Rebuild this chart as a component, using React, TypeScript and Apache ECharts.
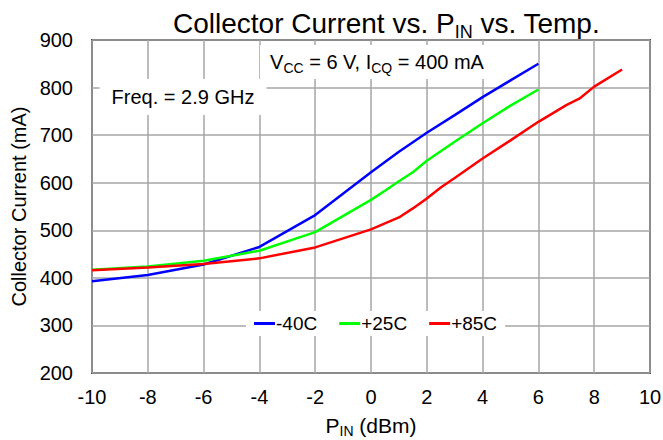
import React, { useEffect, useRef } from "react";
import * as echarts from "echarts";

const xTicks = { min: -10, max: 10, interval: 2 };
const yTicks = { min: 200, max: 900, interval: 100 };

const blueX = [-10, -8, -6, -4, -2, 0, 1, 2, 3, 4, 5, 6];
const blueY = [393, 406, 428, 465, 532, 622, 665, 705, 742, 780, 815, 850];

const greenX = [-10, -8, -6, -4, -2, 0, 0.5, 1, 1.5, 2, 3, 4, 5, 6];
const greenY = [417, 424, 436, 457, 496, 564, 583, 603, 622, 646, 686, 725, 762, 796];

const redX = [-10, -8, -6, -4, -2, 0, 1, 1.5, 2, 2.5, 3, 4, 5, 6, 7, 7.5, 8, 9];
const redY = [416, 422, 429, 441, 464, 502, 527, 546, 567, 590, 610, 651, 689, 728, 763, 778, 802, 838];

const seriesNames = ["-40C", "+25C", "+85C"];
const seriesColors = ["#0000ff", "#00ff00", "#ff0000"];

const FONT = "'Liberation Sans', Arial, Helvetica, sans-serif";

function zip(xs: number[], ys: number[]) {
  return xs.map((x, i) => [x, ys[i]]);
}

export default function App() {
  const ref = useRef<HTMLDivElement>(null);
  useEffect(() => {
    if (!ref.current) return;
    const chart = echarts.init(ref.current, undefined, { renderer: "svg" });
    const datasets = [zip(blueX, blueY), zip(greenX, greenY), zip(redX, redY)];
    chart.setOption({
      animation: false,
      backgroundColor: "#ffffff",
      textStyle: { fontFamily: FONT },
      title: {
        text: "Collector Current vs. P{sub|IN} vs. Temp.",
        left: 168,
        top: 0,
        textStyle: {
          fontFamily: FONT,
          fontSize: 28,
          fontWeight: "normal",
          color: "#000",
          lineHeight: 36,
          rich: {
            sub: { fontFamily: FONT, fontSize: 18, verticalAlign: "bottom", lineHeight: 36, color: "#000" },
          },
        },
      },
      grid: {
        left: 92,
        right: 13,
        top: 40,
        bottom: 67,
        outerBoundsMode: "none",
        containLabel: false,
        show: true,
        borderColor: "#404040",
        borderWidth: 2,
        backgroundColor: "transparent",
      },
      legend: {
        data: seriesNames,
        left: 246,
        top: 311,
        backgroundColor: "#ffffff",
        padding: [3, 8, 3, 8],
        itemGap: 22,
        itemWidth: 21,
        itemHeight: 3,
        icon: "rect",
        textStyle: { fontFamily: FONT, fontSize: 19, color: "#000", padding: [0, 0, 0, -4] },
      },
      xAxis: {
        type: "value",
        min: xTicks.min,
        max: xTicks.max,
        interval: xTicks.interval,
        name: "P{sub|IN} (dBm)",
        nameLocation: "middle",
        nameGap: 39,
        nameTextStyle: {
          fontFamily: FONT,
          fontSize: 21,
          color: "#000",
          lineHeight: 26,
          rich: { sub: { fontFamily: FONT, fontSize: 14, verticalAlign: "bottom", lineHeight: 26, color: "#000" } },
        },
        axisLine: { show: false },
        axisTick: { show: false },
        axisLabel: { fontFamily: FONT, fontSize: 20, color: "#000", margin: 14 },
        splitLine: { show: true, lineStyle: { color: "#a6a6a6", width: 1.5 } },
      },
      yAxis: {
        type: "value",
        min: yTicks.min,
        max: yTicks.max,
        interval: yTicks.interval,
        name: "Collector Current (mA)",
        nameLocation: "middle",
        nameGap: 58,
        nameTextStyle: { fontFamily: FONT, fontSize: 20, color: "#000" },
        axisLine: { show: false },
        axisTick: { show: false },
        axisLabel: { fontFamily: FONT, fontSize: 20, color: "#000", margin: 19 },
        splitLine: { show: true, lineStyle: { color: "#a6a6a6", width: 1.5 } },
      },
      graphic: [
        {
          type: "text",
          x: 183,
          y: 97,
          z: 100,
          style: {
            text: "Freq. = 2.9 GHz",
            fontFamily: FONT,
            fontSize: 20,
            fill: "#000",
            align: "center",
            verticalAlign: "middle",
            backgroundColor: "#ffffff",
            padding: [8, 12, 8, 12],
          },
        },
        {
          type: "text",
          x: 377,
          y: 62,
          z: 100,
          style: {
            text: "V{sub|CC} = 6 V, I{sub|CQ} = 400 mA",
            fontFamily: FONT,
            fontSize: 20,
            fill: "#000",
            align: "center",
            verticalAlign: "middle",
            backgroundColor: "#ffffff",
            padding: [4, 10, 4, 10],
            lineHeight: 26,
            rich: {
              sub: { fontFamily: FONT, fontSize: 14, verticalAlign: "bottom", lineHeight: 26, fill: "#000" },
            },
          },
        },
      ],
      series: seriesNames.map((name, i) => ({
        name,
        type: "line",
        data: datasets[i],
        showSymbol: false,
        symbol: "none",
        color: seriesColors[i],
        lineStyle: { color: seriesColors[i], width: 2.5 },
        z: 3 + i,
      })),
    });
    return () => chart.dispose();
  }, []);
  return <div ref={ref} style={{ width: 663, height: 440, position: "absolute", left: 0, top: 0 }} />;
}
